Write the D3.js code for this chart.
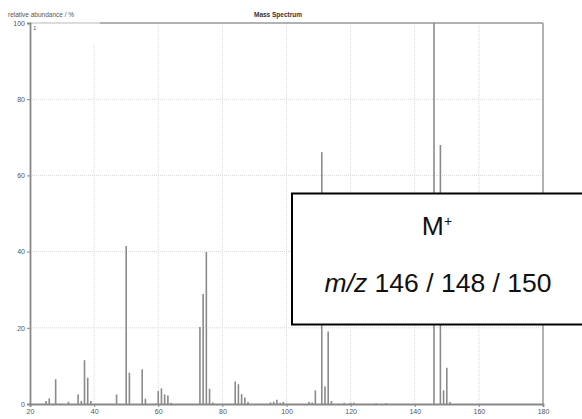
<!DOCTYPE html>
<html><head><meta charset="utf-8">
<script src="https://cdn.jsdelivr.net/npm/d3@7"></script>
<style>body{margin:0;background:#fff;}svg{display:block;font-family:"Liberation Sans",Arial,sans-serif;}</style>
</head><body><div id="chart"></div>
<script>
const mzValues = [25,26,28,32,35,36,37,38,39,47,50,51,55,56,60,61,62,63,64,73,74,75,76,77,84,85,86,87,88,95,96,97,98,99,107,108,109,111,112,113,114,118,120,121,128,131,146,148,149,150,151];
const abundance = [0.8,1.5,6.5,0.6,2.5,0.8,11.5,6.9,0.8,2.5,41.5,8.2,9.1,1.4,3.4,4.1,2.5,2.2,0.3,20.2,28.9,39.9,4.0,0.4,5.9,5.2,2.6,1.7,0.5,0.4,0.6,1.1,0.3,0.5,0.5,0.4,3.6,66.1,4.6,19.0,0.8,0.3,0.3,0.3,0.2,0.2,100,68.0,3.6,9.5,0.5];
const xTicks = [20,40,60,80,100,120,140,160,180];
const yTicks = [0,20,40,60,80,100];
const titleText = "Mass Spectrum";
const yLabelText = "relative abundance / %";
const noteLine1 = "M";
const noteLine2 = "146 / 148 / 150";

const W = 582, H = 419;
const svg = d3.select("#chart").append("svg").attr("width", W).attr("height", H);
const x = d3.scaleLinear().domain([20,180]).range([30,543]);
const y = d3.scaleLinear().domain([0,100]).range([404,23]);

// grid
svg.append("g").selectAll("line").data(xTicks.filter(d => d>20 && d<180)).join("line")
  .attr("x1", d=>x(d)).attr("x2", d=>x(d)).attr("y1", d => d===40 ? 45 : y(100)).attr("y2", y(0))
  .attr("stroke", "#d8d8d8").attr("stroke-width", 1).attr("stroke-dasharray", "1,1");
svg.append("g").selectAll("line").data(yTicks.filter(d => d>0 && d<100)).join("line")
  .attr("x1", x(20)).attr("x2", x(180)).attr("y1", d=>y(d)).attr("y2", d=>y(d))
  .attr("stroke", "#d8d8d8").attr("stroke-width", 1).attr("stroke-dasharray", "1,1");

// frame top/right
svg.append("line").attr("x1", x(20)).attr("x2", 100).attr("y1", y(100)).attr("y2", y(100)).attr("stroke", "#d0d0d0").attr("stroke-width", 1.5);
svg.append("line").attr("x1", 100).attr("x2", x(180)).attr("y1", y(100)).attr("y2", y(100)).attr("stroke", "#999").attr("stroke-width", 1.5);
svg.append("line").attr("x1", x(180)).attr("x2", x(180)).attr("y1", y(100)).attr("y2", y(0)).attr("stroke", "#999").attr("stroke-width", 1.5);

// bars
svg.append("g").selectAll("line").data(mzValues.map((m,i)=>({m, v: abundance[i]}))).join("line")
  .attr("x1", d=>x(d.m)).attr("x2", d=>x(d.m)).attr("y1", y(0)).attr("y2", d=>y(d.v))
  .attr("stroke", "#8a8a8a").attr("stroke-width", 1.6);

// axes
const xAxis = svg.append("g").attr("transform", `translate(0,${y(0)})`)
  .call(d3.axisBottom(x).tickValues(xTicks).tickSize(3).tickPadding(2));
const yAxis = svg.append("g").attr("transform", `translate(${x(20)},0)`)
  .call(d3.axisLeft(y).tickValues(yTicks).tickSize(3).tickPadding(2));
[xAxis, yAxis].forEach(g => {
  g.select(".domain").attr("stroke", "#888").attr("stroke-width", 1.8);
  g.selectAll(".tick line").attr("stroke", "#888");
  g.selectAll(".tick text").attr("fill", "#555").style("font-size", "7px").style("font-family", "Liberation Sans, Arial, sans-serif");
});
svg.append("text").attr("x", 33).attr("y", 30).attr("fill", "#666").style("font-size", "6px").text("1");

// titles
svg.append("text").attr("x", 8).attr("y", 17).attr("fill", "#555").style("font-size", "6.5px").text(yLabelText);
svg.append("text").attr("x", 278).attr("y", 17).attr("text-anchor", "middle").attr("fill", "#333").style("font-size", "6.5px").style("font-weight", "bold").text(titleText);

// annotation box
svg.append("rect").attr("x", 292).attr("y", 193.5).attr("width", 300).attr("height", 131)
  .attr("fill", "#fff").attr("stroke", "#000").attr("stroke-width", 2);
const t1 = svg.append("text").attr("x", 437).attr("y", 235).attr("text-anchor", "middle").attr("fill", "#111").style("font-size", "26.5px");
t1.append("tspan").text(noteLine1);
t1.append("tspan").attr("dy", -9).style("font-size", "14px").text("+");
const t2 = svg.append("text").attr("x", 438).attr("y", 292).attr("text-anchor", "middle").attr("fill", "#111").style("font-size", "26.5px");
t2.append("tspan").style("font-style", "italic").text("m/z");
t2.append("tspan").text(" " + noteLine2);
</script></body></html>
